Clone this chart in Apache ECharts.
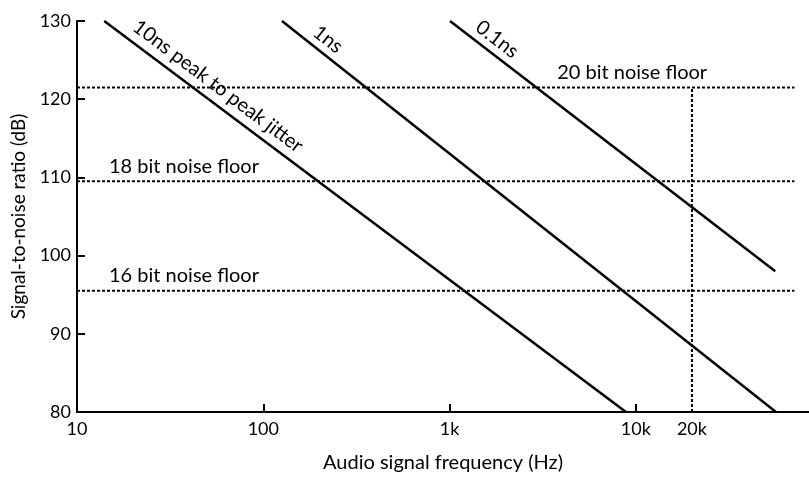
<!DOCTYPE html>
<html>
<head>
<meta charset="utf-8">
<script src="https://cdn.jsdelivr.net/npm/echarts@6/dist/echarts.min.js"></script>
<style>
  html, body { margin: 0; padding: 0; background: #fff; }
  #chart { width: 809px; height: 478px; }
</style>
</head>
<body>
<div id="chart"></div>
<script>
// Jitter-limited signal-to-noise lines, each given by its two ends [frequency Hz, SNR dB]
const jitterNames = ['10ns peak to peak jitter', '1ns', '0.1ns'];
const jitterStart = [[14, 130], [126, 130], [1005, 130]];
const jitterEnd = [[8850, 80], [56500, 80], [56000, 98]];

// Quantisation noise floors (dB) and the frequency span they are drawn over
const floorNames = ['16 bit noise floor', '18 bit noise floor', '20 bit noise floor'];
const floorLevels = [95.5, 109.5, 121.5];
const floorSpan = [10, 71000];

// Upper edge of the audio band
const bandEdge = 20000;
const bandEdgeLabel = '20k';

// Axis ticks
const xTickValues = [10, 100, 1000, 10000];
const xTickLabels = ['10', '100', '1k', '10k'];
const yTickValues = [80, 90, 100, 110, 120, 130];

const FONT = 'Lato';
const INK = '#000';

const chart = echarts.init(document.getElementById('chart'), null, { renderer: 'canvas' });

const dotted = { color: INK, width: 2, type: [3, 2] };
const solid = { color: INK, width: 2.5 };

const series = [];
jitterNames.forEach((name, i) => {
  series.push({
    name, type: 'line', data: [jitterStart[i], jitterEnd[i]],
    symbol: 'none', lineStyle: solid, silent: true, z: 3
  });
});
floorNames.forEach((name, i) => {
  series.push({
    name, type: 'line',
    data: [[floorSpan[0], floorLevels[i]], [floorSpan[1], floorLevels[i]]],
    symbol: 'none', lineStyle: dotted, silent: true, z: 2
  });
});
series.push({
  name: 'band edge', type: 'line',
  data: [[bandEdge, yTickValues[0]], [bandEdge, floorLevels[2]]],
  symbol: 'none', lineStyle: dotted, silent: true, z: 2
});

const tickLabelMap = {};
xTickValues.forEach((v, i) => { tickLabelMap[v] = xTickLabels[i]; });

chart.setOption({
  animation: false,
  backgroundColor: '#fff',
  grid: { left: 77, right: 0, top: 21, bottom: 63 },
  xAxis: {
    type: 'log', logBase: 10, min: 10, max: 85000,
    name: 'Audio signal frequency (Hz)',
    nameLocation: 'middle', nameGap: 41,
    nameTextStyle: { fontFamily: FONT, fontSize: 20, color: INK },
    axisLine: { lineStyle: { color: INK, width: 2 } },
    axisTick: { inside: true, length: 8, lineStyle: { color: INK, width: 2 } },
    minorTick: { show: false },
    splitLine: { show: false },
    axisLabel: {
      fontFamily: FONT, fontSize: 18, color: INK, margin: 8,
      showMaxLabel: false,
      formatter: v => tickLabelMap[Math.round(v)] || ''
    }
  },
  yAxis: {
    type: 'value', min: yTickValues[0], max: yTickValues[yTickValues.length - 1], interval: 10,
    name: 'Signal-to-noise ratio (dB)',
    nameLocation: 'middle', nameGap: 47,
    nameTextStyle: { fontFamily: FONT, fontSize: 19, color: INK },
    axisLine: { show: true, lineStyle: { color: INK, width: 2 } },
    axisTick: { show: true, inside: true, length: 8, lineStyle: { color: INK, width: 2 } },
    splitLine: { show: false },
    axisLabel: { fontFamily: FONT, fontSize: 18, color: INK, margin: 6 }
  },
  series
});

// Text annotations placed along the drawn lines
const toPx = p => chart.convertToPixel({ gridIndex: 0 }, p);
const graphics = [];

// Jitter labels: fraction of the way along each line and lift above it (px)
const jitterLabelAt = [0.218, 0.093, 0.145];
const jitterLabelLift = [20, 18, 18];
jitterNames.forEach((name, i) => {
  const a = toPx(jitterStart[i]);
  const b = toPx(jitterEnd[i]);
  const ang = Math.atan2(b[1] - a[1], b[0] - a[0]);
  const t = jitterLabelAt[i];
  const cx = a[0] + (b[0] - a[0]) * t;
  const cy = a[1] + (b[1] - a[1]) * t - jitterLabelLift[i];
  graphics.push({
    type: 'text', x: cx, y: cy, rotation: -ang, silent: true,
    style: { text: name, fontFamily: FONT, fontSize: 20, fill: INK, align: 'center', verticalAlign: 'middle' }
  });
});

// Noise floor labels: left edge frequency of each caption
const floorLabelFreq = [14.85, 14.85, 3780];
floorNames.forEach((name, i) => {
  const p = toPx([floorLabelFreq[i], floorLevels[i]]);
  graphics.push({
    type: 'text', x: p[0], y: p[1] - 15, silent: true,
    style: { text: name, fontFamily: FONT, fontSize: 20, fill: INK, align: 'left', verticalAlign: 'middle' }
  });
});

// 20k tick caption on the frequency axis
const e = toPx([bandEdge, yTickValues[0]]);
graphics.push({
  type: 'text', x: e[0], y: e[1] + 8, silent: true,
  style: { text: bandEdgeLabel, fontFamily: FONT, fontSize: 18, fill: INK, align: 'center', verticalAlign: 'top' }
});

chart.setOption({ graphic: graphics });
</script>
</body>
</html>
